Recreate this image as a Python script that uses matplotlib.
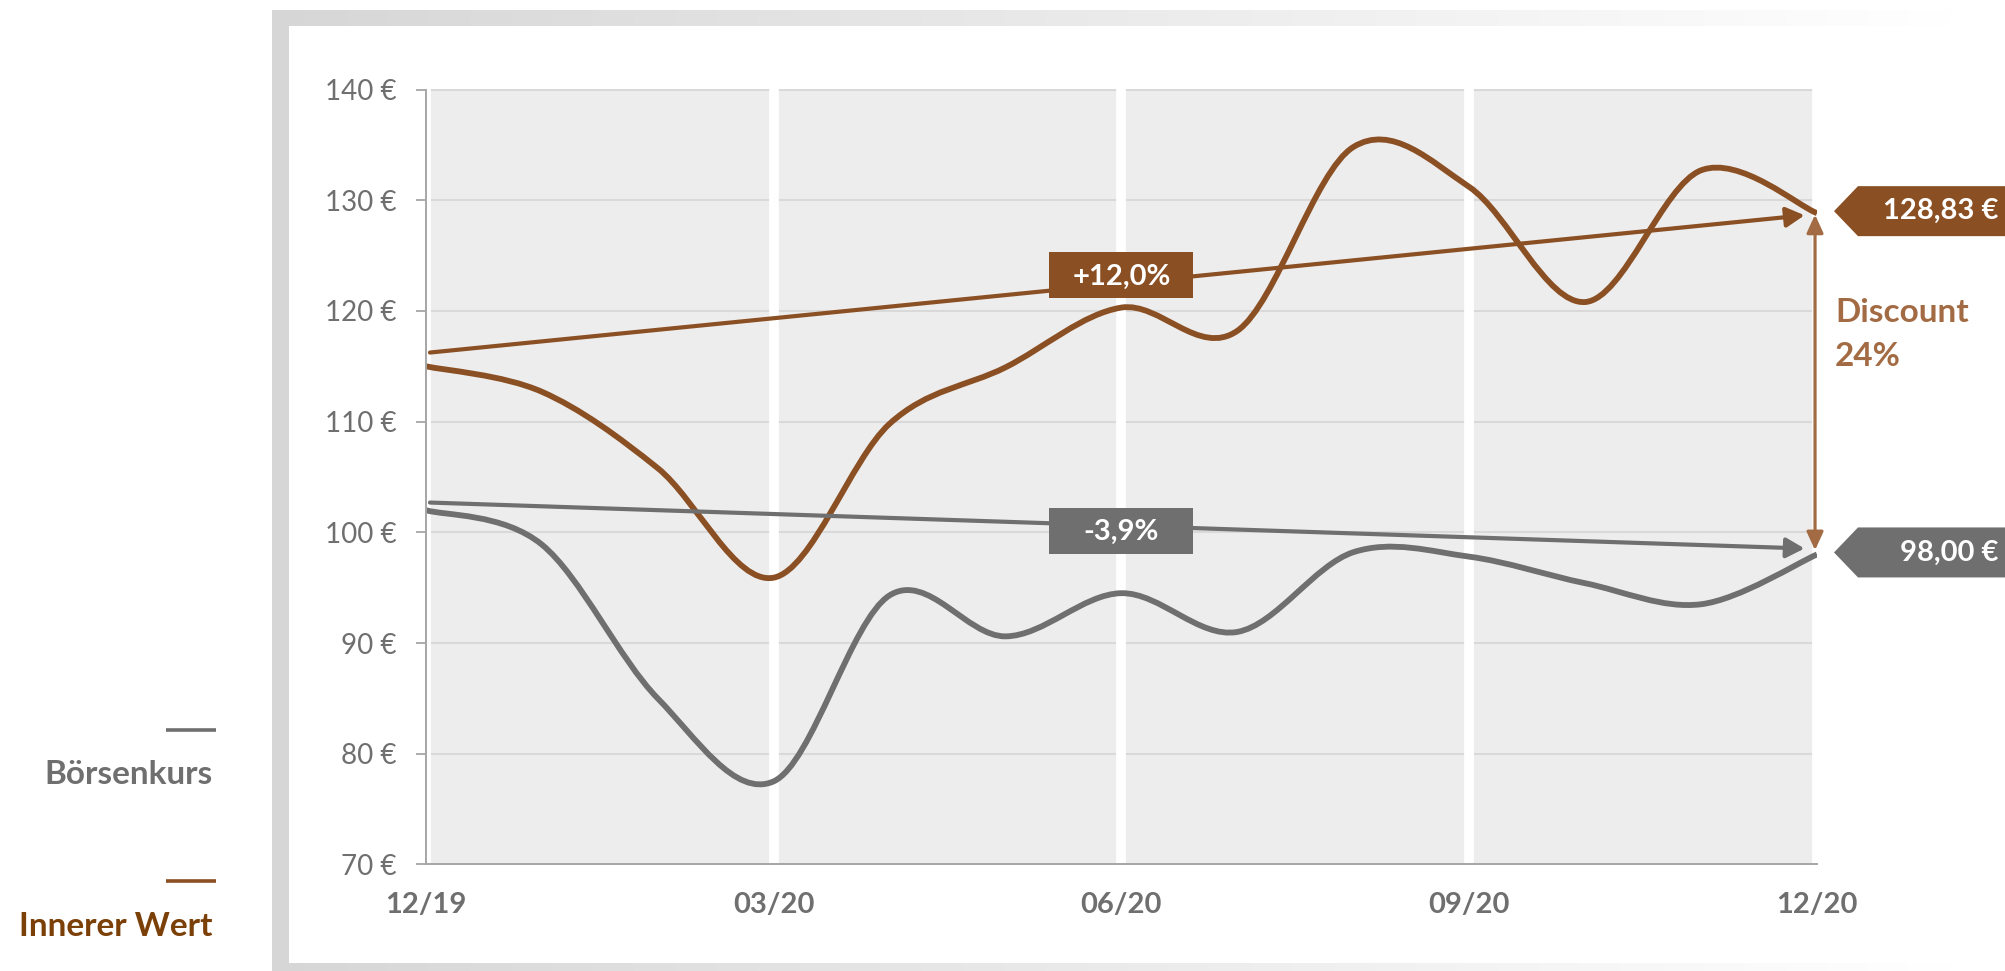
import numpy as np
import matplotlib
matplotlib.use('Agg')
import matplotlib.pyplot as plt
from matplotlib.path import Path
from matplotlib.patches import PathPatch, Rectangle, Polygon

# ---------------- data ----------------
months = ['12/19', '01/20', '02/20', '03/20', '04/20', '05/20', '06/20',
          '07/20', '08/20', '09/20', '10/20', '11/20', '12/20']
tick_months = ['12/19', '03/20', '06/20', '09/20', '12/20']
boersenkurs = [102.0, 98.9, 85.0, 77.5, 94.3, 90.6, 94.5, 91.0, 98.2, 97.8, 95.4, 93.5, 98.0]
innerer_wert = [115.0, 112.7, 105.8, 95.9, 109.8, 114.9, 120.3, 118.2, 134.8, 131.2, 120.8, 132.7, 128.83]
series_names = ['Börsenkurs', 'Innerer Wert']
trend_start = [102.7, 116.2]
trend_end = [98.5, 128.75]
trend_labels = ['-3,9%', '+12,0%']
end_labels = ['98,00 €', '128,83 €']
discount_lines = ['Discount', '24%']
y_ticks = [70, 80, 90, 100, 110, 120, 130, 140]
y_tick_labels = [f'{v} €' for v in y_ticks]

# ---------------- style ----------------
GRAY = '#6f6f6f'
BROWN = '#8b4f24'
BROWN_TXT = '#7b3f08'
DISC = '#a36b43'
AXIS = '#a6a6a6'

plt.rcParams['font.family'] = ['Lato', 'DejaVu Sans']

W, H = 2005, 971
fig = plt.figure(figsize=(W / 100, H / 100), dpi=100)
fig.patch.set_facecolor('white')

# background frame (pixel coordinates)
bg = fig.add_axes([0, 0, 1, 1], zorder=-1)
bg.set_xlim(0, W); bg.set_ylim(H, 0); bg.axis('off')
img = np.ones((H, W, 3))
xs = np.arange(W)
grad = np.clip(0.84 + (xs - 272) / (1950 - 272) * 0.16, 0.84, 1.0)
img[10:26, 272:, :] = grad[272:, None]
img[963:971, 272:, :] = grad[272:, None]
img[10:971, 272:289, :] = 0.84
bg.imshow(img, extent=(0, W, H, 0), interpolation='nearest', aspect='auto')

# main axes
x0, x1 = 425.8, 1817.0
ytop, ybot = 89.5, 864.4
ax = fig.add_axes([x0 / W, 1 - ybot / H, (x1 - x0) / W, (ybot - ytop) / H], zorder=1)
ax.set_facecolor('#ededed')
x = np.arange(len(months))
ax.set_xlim(0, len(months) - 1)
ax.set_ylim(70, 140)

ax.set_yticks(y_ticks)
ax.set_yticklabels(y_tick_labels)
tick_pos = [months.index(m) for m in tick_months]
ax.set_xticks(tick_pos)
ax.set_xticklabels(tick_months, fontweight='bold')
ax.tick_params(axis='y', direction='out', length=7.2, width=1.3, color=AXIS,
               pad=14, labelsize=20, labelcolor=GRAY)
ax.tick_params(axis='x', length=0, pad=20, labelsize=21, labelcolor=GRAY)
for s in ['top', 'right']:
    ax.spines[s].set_visible(False)
for s in ['left', 'bottom']:
    ax.spines[s].set_color(AXIS)
    ax.spines[s].set_linewidth(1.4)
    ax.spines[s].set_zorder(4)

ax.yaxis.grid(True, color='#d9d9d9', lw=1.5, zorder=1)
ax.set_axisbelow(True)
for p in tick_pos:
    ax.axvline(p, color='white', lw=7, zorder=1.8)


def smooth_path(xv, yv):
    P = np.column_stack([np.asarray(xv, float), np.asarray(yv, float)])
    Pe = np.vstack([P[0], P, P[-1]])
    verts = [P[0]]
    codes = [Path.MOVETO]
    for i in range(len(P) - 1):
        p0, p1, p2, p3 = Pe[i], Pe[i + 1], Pe[i + 2], Pe[i + 3]
        verts += [p1 + (p2 - p0) / 6, p2 - (p3 - p1) / 6, p2]
        codes += [Path.CURVE4] * 3
    return Path(verts, codes)


for vals, col in [(boersenkurs, GRAY), (innerer_wert, BROWN)]:
    ax.add_patch(PathPatch(smooth_path(x, vals), facecolor='none', edgecolor=col,
                           lw=4.2, capstyle='butt', joinstyle='round', zorder=3))

# trend arrows
xe = len(months) - 1
for ys, ye, col in zip(trend_start, trend_end, [GRAY, BROWN]):
    ax.annotate('', xy=(xe, ye), xytext=(0, ys),
                arrowprops=dict(arrowstyle='-|>,head_length=0.55,head_width=0.3',
                                color=col, lw=3.0, shrinkA=3, shrinkB=9,
                                mutation_scale=20), zorder=4, annotation_clip=False)

# discount double arrow
ax.annotate('', xy=(xe - 0.017, innerer_wert[-1]), xytext=(xe - 0.017, boersenkurs[-1]),
            arrowprops=dict(arrowstyle='<|-|>,head_length=0.55,head_width=0.25',
                            color=DISC, lw=2.3, shrinkA=3, shrinkB=1,
                            mutation_scale=20), zorder=4, annotation_clip=False)

# overlay (pixel coords)
fg = fig.add_axes([0, 0, 1, 1], zorder=5)
fg.set_xlim(0, W); fg.set_ylim(H, 0); fg.axis('off')
fg.patch.set_alpha(0)


def to_px(xd, yd):
    d = ax.transData.transform((xd, yd))
    return fg.transData.inverted().transform(d)


# trend label boxes
label_anchor = [100.1, 123.2]
for lab, yv, col in zip(trend_labels, label_anchor, [GRAY, BROWN]):
    cx, cy = to_px(6, yv)
    fg.add_patch(Rectangle((cx - 72, cy - 23), 144, 46, facecolor=col, edgecolor='none', zorder=6))
    fg.text(cx, cy + 1, lab, ha='center', va='center', color='white', fontsize=21,
            fontweight='bold', zorder=7)

# end value tags
for lab, yv, col in zip(end_labels, [boersenkurs[-1], innerer_wert[-1]], [GRAY, BROWN]):
    _, cy = to_px(xe, yv)
    cy -= 2
    poly = [(1834, cy), (1858, cy - 25), (W + 5, cy - 25), (W + 5, cy + 25), (1858, cy + 25)]
    fg.add_patch(Polygon(poly, closed=True, facecolor=col, edgecolor='none', zorder=6))
    fg.text(1998, cy, lab, ha='right', va='center', color='white', fontsize=21,
            fontweight='bold', zorder=7)

# discount text
fg.text(1835, 312, discount_lines[0], ha='left', va='center', color=DISC,
        fontsize=24, fontweight='bold')
fg.text(1835, 356, discount_lines[1], ha='left', va='center', color=DISC,
        fontsize=24, fontweight='bold')

# legend
for name, col, tcol, ly in zip(series_names, [GRAY, BROWN], [GRAY, BROWN_TXT], [730, 881]):
    fg.plot([166, 216], [ly, ly], color=col, lw=2.6, solid_capstyle='butt')
    fg.text(213, ly + 45, name, ha='right', va='center', color=tcol, fontsize=24,
            fontweight='bold')

fig.savefig('out.png', dpi=100)
